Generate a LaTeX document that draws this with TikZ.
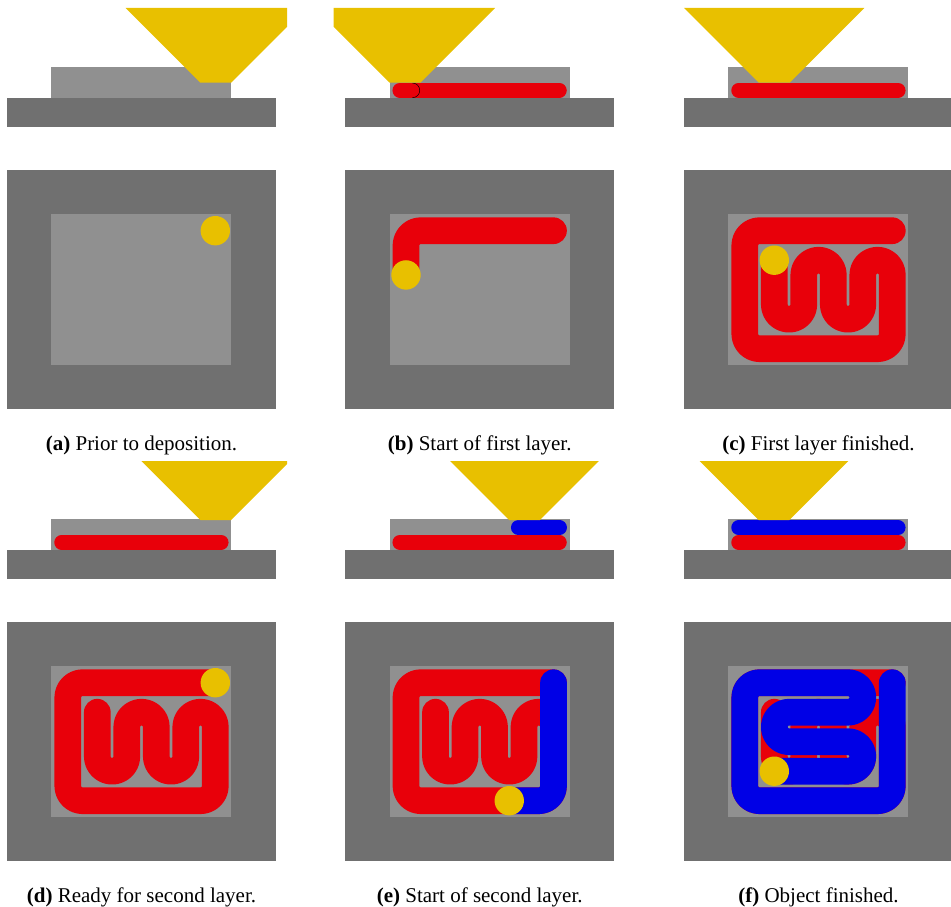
\documentclass[tikz,border=0pt]{standalone}
\usepackage{fontspec}
\setmainfont{Liberation Serif}
\definecolor{darkgr}{HTML}{707070}
\definecolor{lightgr}{HTML}{909090}
\definecolor{redp}{HTML}{E8000A}
\definecolor{bluep}{HTML}{0000E6}
\definecolor{yellowp}{HTML}{E8C000}
\tikzset{
  basefill/.style={fill=darkgr},
  partfill/.style={fill=lightgr},
  tool/.style={fill=yellowp},
  road/.style={line width=26.7pt,line cap=round,line join=round},
  redroad/.style={road,draw=redp},
  blueroad/.style={road,draw=bluep},
  bead/.style={line width=14.7pt,line cap=round},
  captiontext/.style={anchor=base,inner sep=0pt,font=\fontsize{21}{25}\selectfont},
  grid units/.style={shift={(67.8,230.7)},x=14.75pt,y=-14.75pt}
}
% grid paths in logical units
\newcommand{\redfull}{(10,0) -- (1,0) arc[start angle=-90,end angle=-180,radius=1] -- (0,7) arc[start angle=180,end angle=90,radius=1] -- (9,8) arc[start angle=90,end angle=0,radius=1] -- (10,3) arc[start angle=0,end angle=-180,radius=1] -- (8,5) arc[start angle=0,end angle=180,radius=1] -- (6,3) arc[start angle=0,end angle=-180,radius=1] -- (4,5) arc[start angle=0,end angle=180,radius=1] -- (2,2)}
\newcommand{\redstart}{(10,0) -- (1,0) arc[start angle=-90,end angle=-180,radius=1] -- (0,3)}
\newcommand{\bluestart}{(10,0) -- (10,7) arc[start angle=0,end angle=90,radius=1] -- (7,8)}
\newcommand{\bluefull}{(10,0) -- (10,7) arc[start angle=0,end angle=90,radius=1] -- (1,8) arc[start angle=90,end angle=180,radius=1] -- (0,1) arc[start angle=180,end angle=270,radius=1] -- (7,0) arc[start angle=-90,end angle=90,radius=1] -- (3,2) arc[start angle=-90,end angle=-270,radius=1] -- (7,4) arc[start angle=-90,end angle=90,radius=1] -- (2,6)}
% #1 nozzle centre x, #2 nozzle top y, #3 nozzle tip y
\newcommand{\nozzle}[3]{%
  \begin{scope}
    \clip (-4.5,0) rectangle (287,500);
    \path[tool] ({#1-15.4-(#3-#2)},#2) -- ({#1+15.4+(#3-#2)},#2) -- ({#1+15.4},#3) -- ({#1-15.4},#3) -- cycle;
  \end{scope}}
\newcommand{\stage}{%
  \path[partfill] (51.3,66.7) rectangle (231.3,97.7);
  \path[basefill] (7,97.7) rectangle (276,127);
  \path[basefill] (7,170) rectangle (276,409);
  \path[partfill] (51.3,214.4) rectangle (231.3,365);}
\begin{document}
\begin{tikzpicture}[x=1pt,y=-1pt]
\useasboundingbox (0,0) rectangle (951,907);
\clip (0,0) rectangle (951,907);
% (a)
\begin{scope}
  \stage
  \nozzle{215.7}{8}{82.7}
  \path[tool] (215.3,230.7) circle[radius=14.7];
  \node[captiontext] (capa) at (141.5,450.5) {\textbf{(a)} Prior to deposition.};
\end{scope}
% (b)
\begin{scope}[shift={(338.2,0)}]
  \stage
  \draw[bead,draw=redp] (61.6,90.35) -- (221.2,90.35);
  \draw[line width=0.5pt,draw=black] (74.2,83) arc[start angle=-90,end angle=90,radius=7.35];
  \nozzle{66.8}{8}{82.7}
  \begin{scope}[grid units]
    \draw[redroad] \redstart;
    \path[tool] (0,3) circle[radius=0.997];
  \end{scope}
  \node[captiontext] (capb) at (141.5,450.5) {\textbf{(b)} Start of first layer.};
\end{scope}
% (c)
\begin{scope}[shift={(677,0)}]
  \stage
  \draw[bead,draw=redp] (61.6,90.35) -- (221.2,90.35);
  \nozzle{97.3}{8}{82.7}
  \begin{scope}[grid units]
    \draw[redroad] \redfull;
    \path[tool] (2,2) circle[radius=0.997];
  \end{scope}
  \node[captiontext] (capc) at (141.5,450.5) {\textbf{(c)} First layer finished.};
\end{scope}
% (d)
\begin{scope}[shift={(0,452)}]
  \stage
  \draw[bead,draw=redp] (61.6,90.35) -- (221.2,90.35);
  \nozzle{215.7}{9}{68}
  \begin{scope}[grid units]
    \draw[redroad] \redfull;
    \path[tool] (10,0) circle[radius=0.997];
  \end{scope}
  \node[captiontext] (capd) at (141.5,450.5) {\textbf{(d)} Ready for second layer.};
\end{scope}
% (e)
\begin{scope}[shift={(338.2,452)}]
  \stage
  \draw[bead,draw=redp] (61.6,90.35) -- (221.2,90.35);
  \draw[bead,draw=bluep] (180.1,75.65) -- (221.4,75.65);
  \nozzle{186.3}{9}{68}
  \begin{scope}[grid units]
    \draw[redroad] \redfull;
    \draw[blueroad] \bluestart;
    \path[tool] (7,8) circle[radius=0.997];
  \end{scope}
  \node[captiontext] (cape) at (141.5,450.5) {\textbf{(e)} Start of second layer.};
\end{scope}
% (f)
\begin{scope}[shift={(677,452)}]
  \stage
  \draw[bead,draw=redp] (61.6,90.35) -- (221.2,90.35);
  \draw[bead,draw=bluep] (61.6,75.65) -- (221.2,75.65);
  \nozzle{97}{9}{68}
  \begin{scope}[grid units]
    \draw[redroad] \redfull;
    \draw[blueroad] \bluefull;
    \path[tool] (2,6) circle[radius=0.997];
  \end{scope}
  \node[captiontext] (capf) at (141.5,450.5) {\textbf{(f)} Object finished.};
\end{scope}
\end{tikzpicture}
\end{document}
